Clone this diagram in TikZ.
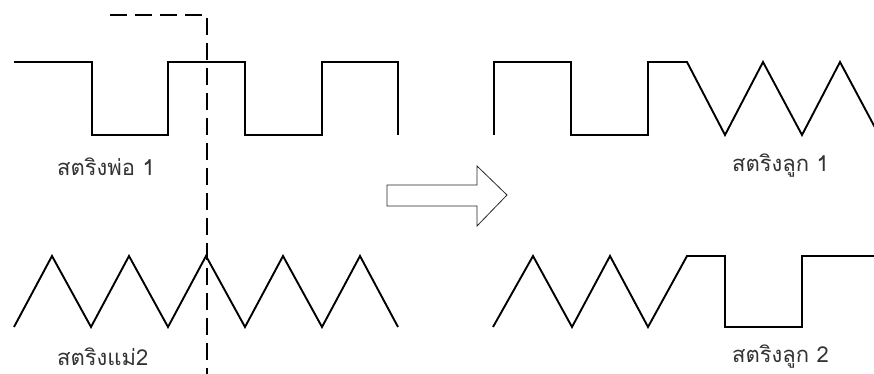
\documentclass[tikz,border=0pt]{standalone}
\usepackage{fontspec}
\newfontfamily\thaifont[Script=Thai]{Loma}
\begin{document}
\begin{tikzpicture}[x=1pt,y=-1pt,
  wave/.style={line width=1.9pt, line join=miter, black},
  cut/.style={line width=1.9pt, dash pattern=on 17pt off 8pt, black},
  blockarrow/.style={line width=0.8pt, draw=black!85, fill=white, line join=miter},
  lbl/.style={anchor=west, inner sep=0pt, text=black!80, font=\thaifont\fontsize{22}{24}\selectfont}]
\useasboundingbox (0,0) rectangle (874,374);
\clip (0,0) rectangle (874,374);
% parent 1
\draw[wave] (14,62) -- (92,62) -- (92,135) -- (168,135) -- (168,62) -- (245,62) -- (245,135) -- (322,135) -- (322,62) -- (398,62) -- (398,135);
% parent 2
\draw[wave] (14,327) -- (52,256) -- (91,327) -- (129,256) -- (168,327) -- (206,256) -- (245,327) -- (283,256) -- (322,327) -- (360,256) -- (398,327);
% cut line
\draw[cut] (110,15) -- (207,15) -- (207,380);
% arrow
\draw[blockarrow] (387,185) -- (477,185) -- (477,166) -- (507,195) -- (477,226) -- (477,206) -- (387,206) -- cycle;
% child 1
\draw[wave] (494,135) -- (494,62) -- (571,62) -- (571,135) -- (648,135) -- (648,62) -- (687,62) -- (725,135) -- (763,62) -- (802,135) -- (840,62) -- (879,135);
% child 2
\draw[wave] (493,327) -- (533,256) -- (572,327) -- (610,256) -- (648,327) -- (687,256) -- (725,256) -- (725,327) -- (802,327) -- (802,256) -- (880,256);
% labels
\node[lbl] (p1) at (57,167) {สตริงพ่อ 1};
\node[lbl] (p2) at (57,357) {สตริงแม่2};
\node[lbl] (c1) at (732,166) {สตริงลูก 1};
\node[lbl] (c2) at (732,357) {สตริงลูก 2};
\end{tikzpicture}
\end{document}
